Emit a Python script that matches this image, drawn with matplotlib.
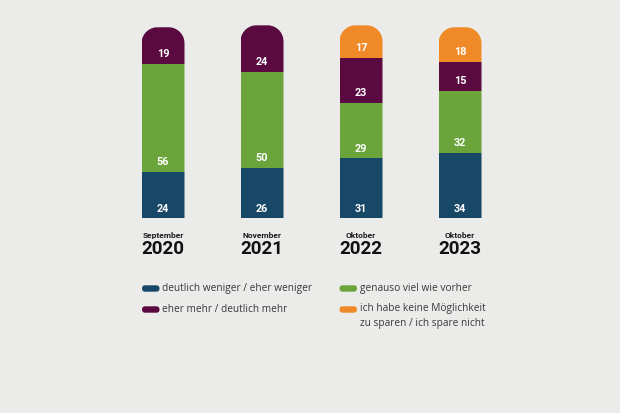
import matplotlib
matplotlib.use("Agg")
import matplotlib.pyplot as plt
import numpy as np
from matplotlib.patches import FancyBboxPatch, PathPatch
from matplotlib.path import Path
import matplotlib.transforms as mtransforms

months = ["September", "November", "Oktober", "Oktober"]
years = ["2020", "2021", "2022", "2023"]
weniger = [24, 26, 31, 34]
gleich = [56, 50, 29, 32]
mehr = [19, 24, 23, 15]
keine = [0, 0, 17, 18]

series = [weniger, gleich, mehr, keine]
colors = ["#174868", "#6aa43a", "#5a0a40", "#f08a28"]
legend_labels = ["deutlich weniger / eher weniger", "genauso viel wie vorher",
                 "eher mehr / deutlich mehr",
                 "ich habe keine Möglichkeit\nzu sparen / ich spare nicht"]

W, H = 620, 413
bg = "#ebecea"
fig = plt.figure(figsize=(W / 100, H / 100), dpi=100, facecolor=bg)
ax = fig.add_axes([0, 0, 1, 1])
ax.set_facecolor(bg)
ax.axis("off")

px_x = 99.0     # pixels per category unit
px_y = 1.93     # pixels per percentage unit
x0_px, y0_px = 163.0, 218.3  # pixel position of (0, 0) from top-left
ax.set_xlim(-x0_px / px_x, (W - x0_px) / px_x)
ax.set_ylim(-(H - y0_px) / px_y, y0_px / px_y)

x = np.arange(len(years))
width = 43 / px_x
radius_px = 16
rx, ry = radius_px / px_x, radius_px / px_y

totals = np.sum(series, axis=0)


def top_rounded_path(xc, top):
    xl, xr = xc - width / 2, xc + width / 2
    verts = [(xl, -20), (xr, -20), (xr, top - ry)]
    for t in np.linspace(0, np.pi / 2, 16)[1:]:
        verts.append((xr - rx + rx * np.cos(t), top - ry + ry * np.sin(t)))
    for t in np.linspace(np.pi / 2, np.pi, 16)[1:]:
        verts.append((xl + rx + rx * np.cos(t), top - ry + ry * np.sin(t)))
    verts.append((xl, -20))
    return Path(verts, closed=True)


clips = []
for i in range(len(years)):
    clip = PathPatch(top_rounded_path(x[i], totals[i]))
    clip.set_transform(ax.transData)
    clips.append(clip)

bottom = np.zeros(len(years))
for vals, col in zip(series, colors):
    vals = np.array(vals, dtype=float)
    bars = ax.bar(x, vals, width, bottom=bottom, color=col, linewidth=0)
    for i, b in enumerate(bars):
        b.set_clip_path(clips[i])
        if vals[i] > 0:
            ax.text(x[i], bottom[i] + 5, f"{int(vals[i])}", ha="center", va="center",
                    color="white", fontsize=7.8, fontweight="bold", family="Roboto")
    bottom += vals

# category labels
for i in range(len(years)):
    ax.text(x[i], -(235 - y0_px) / px_y, months[i], ha="center", va="center",
            fontsize=6, fontweight="bold", family="Roboto", color="#1a1a1a")
    ax.text(x[i], -(248.5 - y0_px) / px_y, years[i], ha="center", va="center",
            fontsize=13.5, fontweight="bold", family="Roboto", color="#111111")

# legend in pixel coordinates
lax = fig.add_axes([0, 0, 1, 1])
lax.set_xlim(0, W)
lax.set_ylim(H, 0)
lax.axis("off")
lax.patch.set_alpha(0)
positions = [(142, 288.5), (339.5, 288.5), (142, 309.5), (339.5, 309.5)]
for (lx, ly), col, lab in zip(positions, colors, legend_labels):
    p = FancyBboxPatch((lx, ly - 3.2), 17.5, 6.4,
                       boxstyle="round,pad=0,rounding_size=3.2",
                       facecolor=col, edgecolor="none")
    lax.add_patch(p)
    lax.text(lx + 20, ly, lab, ha="left", va="top" if "\n" in lab else "center",
             fontsize=7.3, family="Open Sans", color="#383838",
             linespacing=1.55,
             transform=lax.transData if "\n" not in lab else
             mtransforms.offset_copy(lax.transData, fig=fig, x=0, y=6.5, units="dots"))

fig.savefig("out.png", dpi=100, facecolor=bg)
